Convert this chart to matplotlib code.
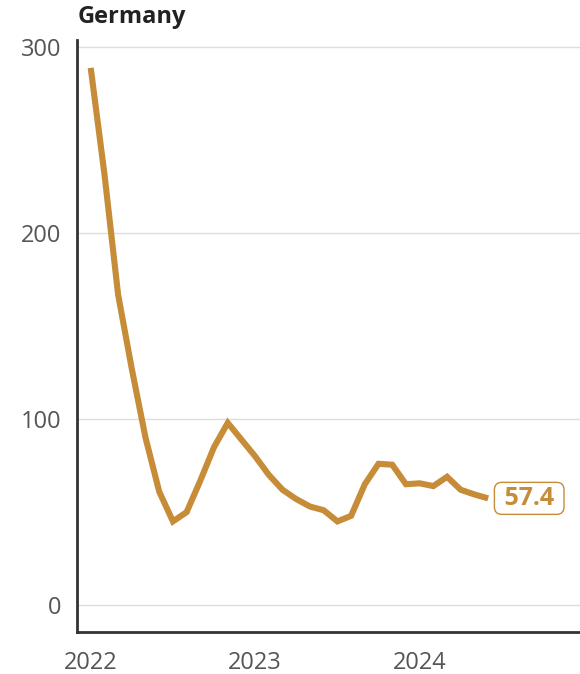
import matplotlib
matplotlib.use("Agg")
import matplotlib.pyplot as plt

plt.rcParams['font.family'] = ['Open Sans', 'DejaVu Sans']

# Monthly series for Germany, starting January 2022
months = list(range(30))
values = [289, 232, 167, 127, 90, 61, 45, 50, 67, 85, 98, 89, 80, 70, 62, 57,
          53, 51, 45, 48, 65, 76, 75.5, 65, 65.5, 64, 69, 62, 59.5, 57.4]
year_ticks = [0, 12, 24]
year_labels = ["2022", "2023", "2024"]
y_ticks = [0, 100, 200, 300]
title = "Germany"
last_label = "57.4"

line_color = "#c68c38"
text_gray = "#555555"

fig = plt.figure(figsize=(5.8, 6.74), dpi=100)
ax = fig.add_axes([77 / 580, 1 - 632 / 674, 1 - 77 / 580, (632 - 40) / 674])

ax.plot(months, values, color=line_color, linewidth=4.4, solid_joinstyle='miter',
        solid_capstyle='butt', zorder=3)

ax.set_xlim(-1.0, 35.7)
ax.set_ylim(-14.5, 304)

ax.set_yticks(y_ticks)
ax.set_yticklabels([str(v) for v in y_ticks])
ax.set_xticks(year_ticks)
ax.set_xticklabels(year_labels)
ax.tick_params(axis='both', length=0, labelsize=17, colors=text_gray)
ax.tick_params(axis='y', pad=11)
ax.tick_params(axis='x', pad=14)

ax.grid(axis='y', color='#dddddd', linewidth=1.0)
ax.set_axisbelow(True)
for side in ('top', 'right'):
    ax.spines[side].set_visible(False)
for side in ('left', 'bottom'):
    ax.spines[side].set_color('#333333')
    ax.spines[side].set_linewidth(2.0)

# Latest value label in a rounded box
ax.annotate(" " + last_label + " ", xy=(months[-1], values[-1]), xytext=(7, 0),
            textcoords='offset points', ha='left', va='center',
            fontsize=18, fontweight='bold', color=line_color,
            bbox=dict(boxstyle='round,pad=0.14,rounding_size=0.3', fc='white',
                      ec=line_color, lw=1.0))

fig.text(78 / 580, 1 - 17 / 674, title, ha='left', va='center',
         fontsize=17, fontweight='bold', color='#222222')

fig.savefig("out.png", dpi=100)
